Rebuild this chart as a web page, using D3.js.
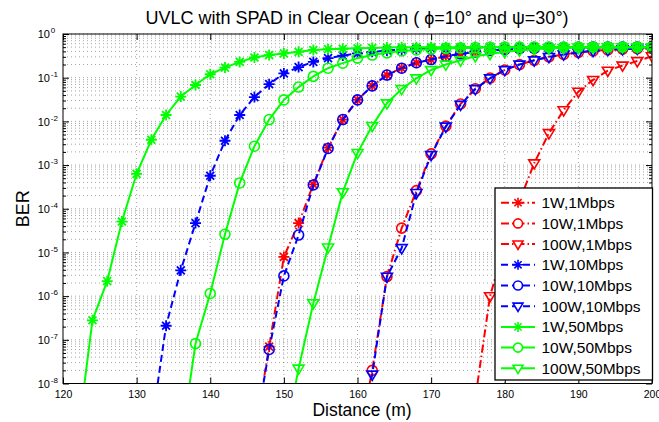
<!DOCTYPE html>
<html>
<head>
<meta charset="utf-8">
<script src="https://cdn.jsdelivr.net/npm/d3@7"></script>
<style>
  html, body { margin: 0; padding: 0; background: #fff; }
  svg { display: block; font-family: "Liberation Sans", Arial, sans-serif; }
</style>
</head>
<body>
<svg id="chart" width="659" height="422"></svg>
<script>
// ---------------- data ----------------
const distance = [120,122,124,126,128,130,132,134,136,138,140,142,144,146,148,150,152,154,156,158,160,162,164,166,168,170,172,174,176,178,180,182,184,186,188,190,192,194,196,198,200];
const xTicks = [120,130,140,150,160,170,180,190,200];
const yDecades = [0,-1,-2,-3,-4,-5,-6,-7,-8];
const N = null;

const ber_1W_1M   = [N,N,N,N,N,N,N,N,N,N,N,N,N,6e-10,7e-8,7.9e-6,4.7e-5,3.6e-4,2.5e-3,1.1e-2,3.1e-2,6.5e-2,0.115,0.165,0.22,0.26,0.31,0.35,0.39,0.42,0.44,0.46,0.47,0.48,0.49,0.495,0.5,0.5,0.5,0.5,0.5];
const ber_10W_1M  = [N,N,N,N,N,N,N,N,N,N,N,N,N,N,N,N,N,N,N,N,4e-10,2e-8,2.8e-6,3.6e-5,2.6e-4,1.8e-3,7.8e-3,0.025,0.056,0.098,0.15,0.2,0.25,0.3,0.34,0.38,0.41,0.43,0.45,0.46,0.47];
const ber_100W_1M = [N,N,N,N,N,N,N,N,N,N,N,N,N,N,N,N,N,N,N,N,N,N,N,N,N,N,N,N,4.5e-9,1e-6,1.5e-5,1.5e-4,1.1e-3,5.4e-3,1.8e-2,0.048,0.089,0.145,0.19,0.24,0.31];
const ber_1W_10M  = [N,N,N,N,N,N,1e-9,2.1e-7,3.9e-6,4.7e-5,5.7e-4,3.6e-3,1.4e-2,3.6e-2,7.1e-2,0.125,0.175,0.23,0.28,0.32,0.36,0.39,0.42,0.44,0.46,0.47,0.48,0.49,0.495,0.5,0.5,0.5,0.5,0.5,0.5,0.5,0.5,0.5,0.5,0.5,0.5];
const ber_10W_10M = [N,N,N,N,N,N,N,N,N,N,N,N,N,6e-10,6e-8,2.9e-6,2.5e-5,3.5e-4,2.4e-3,1.1e-2,3.1e-2,6.5e-2,0.115,0.165,0.22,0.26,0.31,0.35,0.39,0.42,0.44,0.46,0.47,0.48,0.49,0.495,0.5,0.5,0.5,0.5,0.5];
const ber_100W_10M= [N,N,N,N,N,N,N,N,N,N,N,N,N,N,N,N,N,N,N,N,4e-10,1.6e-8,2.8e-6,1.26e-5,2.3e-4,1.7e-3,7.6e-3,0.024,0.055,0.097,0.15,0.2,0.25,0.3,0.34,0.38,0.41,0.43,0.45,0.46,0.47];
const ber_1W_50M  = [N,6e-10,2.8e-7,2.2e-6,5.1e-5,6.3e-4,3.8e-3,1.4e-2,3.7e-2,6.8e-2,0.12,0.17,0.23,0.29,0.33,0.36,0.39,0.43,0.45,0.46,0.47,0.48,0.49,0.495,0.5,0.5,0.5,0.5,0.5,0.5,0.5,0.5,0.5,0.5,0.5,0.5,0.5,0.5,0.5,0.5,0.5];
const ber_10W_50M = [N,N,N,N,N,N,N,N,4e-10,8.2e-8,1.15e-6,2.6e-5,3.9e-4,2.7e-3,1.1e-2,3.1e-2,6.1e-2,0.107,0.165,0.215,0.28,0.33,0.37,0.41,0.43,0.45,0.47,0.48,0.49,0.495,0.5,0.5,0.5,0.5,0.5,0.5,0.5,0.5,0.5,0.5,0.5];
const ber_100W_50M= [N,N,N,N,N,N,N,N,N,N,N,N,N,N,N,4e-10,2.2e-8,6.9e-7,1.3e-5,2.4e-4,1.9e-3,7.9e-3,0.026,0.055,0.097,0.15,0.2,0.25,0.31,0.35,0.39,0.42,0.45,0.47,0.48,0.49,0.495,0.5,0.5,0.5,0.5];

const labels = ["1W,1Mbps","10W,1Mbps","100W,1Mbps","1W,10Mbps","10W,10Mbps","100W,10Mbps","1W,50Mbps","10W,50Mbps","100W,50Mbps"];
const seriesValues = [ber_1W_1M, ber_10W_1M, ber_100W_1M, ber_1W_10M, ber_10W_10M, ber_100W_10M, ber_1W_50M, ber_10W_50M, ber_100W_50M];

// ---------------- styles ----------------
const RED = "#ff0000", BLUE = "#0000ff", GREEN = "#00ff00";
const rateStyle = [
  {color: RED,   dash: "8,3,1.5,3"},
  {color: BLUE,  dash: "7,4"},
  {color: GREEN, dash: null}
];
const markerKinds = ["star","circle","tri"];

const series = labels.map((name, i) => ({
  name,
  values: seriesValues[i],
  color: rateStyle[Math.floor(i/3)].color,
  dash: rateStyle[Math.floor(i/3)].dash,
  marker: markerKinds[i % 3]
}));

// ---------------- layout ----------------
const L = 63, R = 652, T = 34, B = 383.5;
const svg = d3.select("#chart");
const x = d3.scaleLinear().domain([120, 200]).range([L, R]);
const y = d3.scaleLog().domain([1e-8, 1]).range([B, T]);

const minorY = [];
for (let e = -8; e < 0; e++) for (let m = 2; m <= 9; m++) minorY.push(m * Math.pow(10, e));
const majorY = yDecades.map(e => Math.pow(10, e));

// grid
const grid = svg.append("g").attr("class", "grid");
grid.selectAll("line.hy").data(majorY.concat(minorY)).enter().append("line")
  .attr("x1", L).attr("x2", R).attr("y1", d => y(d)).attr("y2", d => y(d))
  .attr("stroke", "#000").attr("stroke-opacity", 0.45).attr("stroke-width", 0.8)
  .attr("stroke-dasharray", "1,3");
grid.selectAll("line.vx").data(xTicks.slice(1, -1)).enter().append("line")
  .attr("y1", T).attr("y2", B).attr("x1", d => x(d)).attr("x2", d => x(d))
  .attr("stroke", "#000").attr("stroke-opacity", 0.45).attr("stroke-width", 0.8)
  .attr("stroke-dasharray", "1,3");

// clip
svg.append("defs").append("clipPath").attr("id", "plotclip")
  .append("rect").attr("x", L).attr("y", T).attr("width", R - L).attr("height", B - T);

// curves
const plot = svg.append("g").attr("clip-path", "url(#plotclip)");
const line = d3.line()
  .defined(d => d.v != null)
  .x(d => x(d.x))
  .y(d => y(d.v));

function markerPath(kind, r) {
  if (kind === "star") {
    const d = r * 0.72;
    return `M${-r},0L${r},0M0,${-r}L0,${r}M${-d},${-d}L${d},${d}M${-d},${d}L${d},${-d}`;
  }
  if (kind === "circle") {
    return `M${r},0A${r},${r} 0 1,1 ${-r},0A${r},${r} 0 1,1 ${r},0Z`;
  }
  // downward triangle
  return `M${-r},${-r*0.62}L${r},${-r*0.62}L0,${r*1.05}Z`;
}

series.forEach(s => {
  const pts = distance.map((xv, i) => ({x: xv, v: s.values[i]}));
  const g = plot.append("g");
  g.append("path").datum(pts)
    .attr("d", line)
    .attr("fill", "none")
    .attr("stroke", s.color)
    .attr("stroke-width", 2)
    .attr("stroke-dasharray", s.dash);
  g.selectAll("path.m").data(pts.filter(d => d.v != null)).enter().append("path")
    .attr("transform", d => `translate(${x(d.x)},${y(d.v)})`)
    .attr("d", markerPath(s.marker, s.marker === "circle" ? 5 : 5.5))
    .attr("fill", "none")
    .attr("stroke", s.color)
    .attr("stroke-width", s.marker === "star" ? 1.8 : 1.6);
});

// axes (ticks inside, boxed)
const tickStroke = g => g.selectAll("line").attr("stroke", "#000");
svg.append("g").attr("transform", `translate(0,${B})`)
  .call(d3.axisBottom(x).tickValues(xTicks).tickSizeInner(-6).tickSizeOuter(0).tickPadding(7).tickFormat(d3.format("d")))
  .call(g => g.select(".domain").remove())
  .call(tickStroke)
  .call(g => g.selectAll("text").attr("font-size", "10.5px").attr("fill", "#000").attr("font-family", "Liberation Sans, Arial, sans-serif"));
svg.append("g").attr("transform", `translate(0,${T})`)
  .call(d3.axisTop(x).tickValues(xTicks).tickSizeInner(-6).tickSizeOuter(0).tickFormat(""))
  .call(g => g.select(".domain").remove()).call(tickStroke);

[["left", L, -6, -3], ["right", R, -6, -3]].forEach(([side, pos]) => {
  const ax = side === "left" ? d3.axisLeft : d3.axisRight;
  svg.append("g").attr("transform", `translate(${pos},0)`)
    .call(ax(y).tickValues(majorY).tickSizeInner(-6).tickSizeOuter(0).tickFormat(""))
    .call(g => g.select(".domain").remove()).call(tickStroke);
  svg.append("g").attr("transform", `translate(${pos},0)`)
    .call(ax(y).tickValues(minorY).tickSizeInner(-3).tickSizeOuter(0).tickFormat(""))
    .call(g => g.select(".domain").remove()).call(tickStroke);
});

svg.append("rect").attr("x", L).attr("y", T).attr("width", R - L).attr("height", B - T)
  .attr("fill", "none").attr("stroke", "#000").attr("stroke-width", 1);

// y tick labels 10^n
const yl = svg.append("g").attr("font-family", "Liberation Sans, Arial, sans-serif").attr("fill", "#000");
yDecades.forEach(e => {
  const yy = y(Math.pow(10, e));
  yl.append("text").attr("x", 50).attr("y", yy + 4.2).attr("text-anchor", "end")
    .attr("font-size", "11px").text("10");
  yl.append("text").attr("x", 50.8).attr("y", yy - 0.8).attr("text-anchor", "start")
    .attr("font-size", "8px").text(e === 0 ? "0" : "-" + (-e));
});

// titles
svg.append("text").attr("x", 357).attr("y", 23.5).attr("text-anchor", "middle")
  .attr("font-size", "18px").attr("fill", "#000")
  .text("UVLC with SPAD in Clear Ocean ( \u03d5=10\u00b0 and \u03c8=30\u00b0)");
svg.append("text").attr("x", 362).attr("y", 416).attr("text-anchor", "middle")
  .attr("font-size", "17.5px").attr("fill", "#000").text("Distance (m)");
svg.append("text").attr("transform", `translate(28.5,${(T + B) / 2}) rotate(-90)`)
  .attr("text-anchor", "middle").attr("font-size", "18px").attr("fill", "#000").text("BER");

// legend
const lg = svg.append("g");
lg.append("rect").attr("x", 495).attr("y", 188).attr("width", 157.5).attr("height", 192)
  .attr("fill", "#fff").attr("stroke", "#000").attr("stroke-width", 1.3);
series.forEach((s, i) => {
  const cy = 202.7 + i * 20.7;
  lg.append("line").attr("x1", 501).attr("x2", 535).attr("y1", cy).attr("y2", cy)
    .attr("stroke", s.color).attr("stroke-width", 2).attr("stroke-dasharray", s.dash);
  lg.append("path").attr("transform", `translate(518,${cy})`)
    .attr("d", markerPath(s.marker, s.marker === "circle" ? 4.5 : 5))
    .attr("fill", "#fff").attr("stroke", s.color).attr("stroke-width", 1.6);
  lg.append("text").attr("x", 541.5).attr("y", cy + 5.5).attr("font-size", "15.5px")
    .attr("fill", "#000").text(s.name);
});
</script>
</body>
</html>
